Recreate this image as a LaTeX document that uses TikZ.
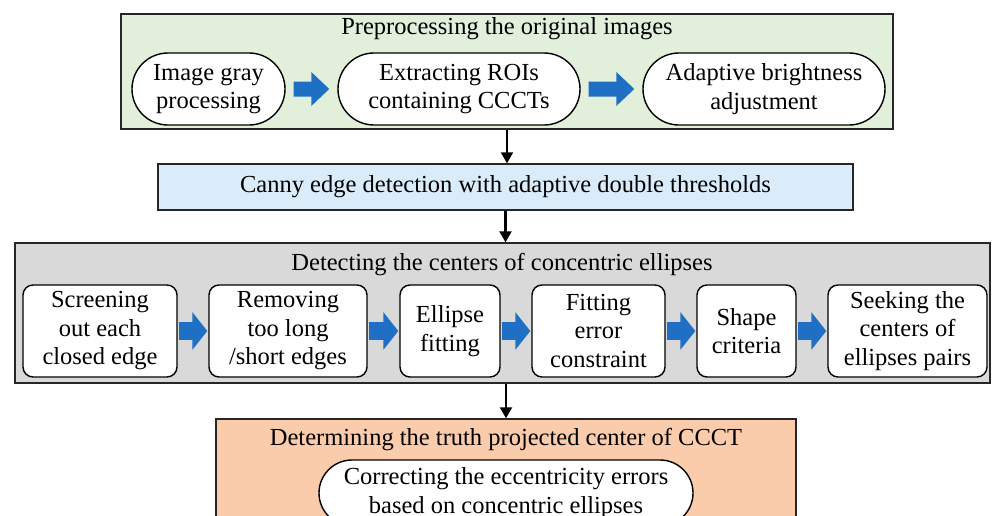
\documentclass[tikz,border=0pt]{standalone}
\usepackage{fontspec}
\setmainfont{Liberation Serif}
\usetikzlibrary{arrows.meta,shapes.misc}
\definecolor{preproc}{RGB}{226,239,218}
\definecolor{canny}{RGB}{218,236,250}
\definecolor{detect}{RGB}{217,217,217}
\definecolor{truth}{RGB}{250,204,172}
\definecolor{flowblue}{RGB}{31,112,196}
\tikzset{
	stage/.style={draw=black!85, line width=1.4pt, inner sep=0pt},
	oval/.style={draw, line width=1.4pt, fill=white, rounded rectangle,
		align=center, inner sep=0pt},
	stepbox/.style={draw, line width=1.4pt, fill=white, rounded corners=10pt,
		align=center, inner sep=0pt, minimum height=92pt},
	flow/.style={line width=2.2pt, -{Triangle[length=11pt,width=12pt]}},
	fattop/.style={draw=flowblue, line width=15pt,
		-{Triangle[length=18pt,width=33pt]}, shorten <=8pt, shorten >=8pt},
	fatlow/.style={draw=flowblue, line width=18pt,
		-{Triangle[length=15pt,width=37pt]}, shorten <=1pt, shorten >=1pt},
}
\begin{document}
\begin{tikzpicture}[x=1pt, y=-1pt, font=\fontsize{24.5}{28.5}\selectfont]
\useasboundingbox (0,0) rectangle (993,515);
\clip (0,0) rectangle (993,515);
% the four stages
\node[stage, fill=preproc, minimum width=772pt, minimum height=115pt]
	(pre) at (507,71.5) {};
\node[stage, fill=canny, minimum width=695pt, minimum height=46pt]
	(cny) at (505.5,187) {Canny edge detection with adaptive double thresholds};
\node[stage, fill=detect, minimum width=975pt, minimum height=140pt]
	(det) at (502.5,313) {};
\node[stage, fill=truth, minimum width=580pt, minimum height=142pt]
	(tru) at (506,490) {};
\node (pretitle) at (507,29) {Preprocessing the original images};
\node (dettitle) at (502,265) {Detecting the centers of concentric ellipses};
\node (trutitle) at (506,440) {Determining the truth projected center of CCCT};
% preprocessing steps
\node[oval, minimum width=153pt, minimum height=72pt]
	(p1) at (208.5,89) {Image gray\\processing};
\node[oval, minimum width=242pt, minimum height=72pt]
	(p2) at (459,89) {Extracting ROIs\\containing CCCTs};
\node[oval, minimum width=242pt, minimum height=72pt]
	(p3) at (764,89) {Adaptive brightness\\adjustment};
\foreach \i [count=\j from 2] in {1,2} \draw[fattop] (p\i) -- (p\j);
% ellipse center detection steps
\foreach \i/\x/\w/\t in {
	1/100/154/{Screening\\out each\\closed edge},
	2/288/158/{Removing\\too long\\/short edges},
	3/450/100/{Ellipse\\fitting},
	4/598.5/133/{Fitting\\error\\constraint},
	5/746.5/99/{Shape\\criteria},
	6/907.5/159/{Seeking the\\centers of\\ellipses pairs}}
	\node[stepbox, minimum width=\w pt] (d\i) at (\x,331) {\t};
\foreach \i [count=\j from 2] in {1,...,5} \draw[fatlow] (d\i) -- (d\j);
% eccentricity correction
\node[oval, minimum width=374pt, minimum height=66pt]
	(c1) at (506,493) {Correcting the eccentricity errors\\based on concentric ellipses};
% links between stages
\draw[flow] (pre.south) -- (pre.south |- cny.north);
\draw[flow] (cny.south) -- (cny.south |- det.north);
\draw[flow] (det.south -| tru.north) -- (tru.north);
\end{tikzpicture}
\end{document}
